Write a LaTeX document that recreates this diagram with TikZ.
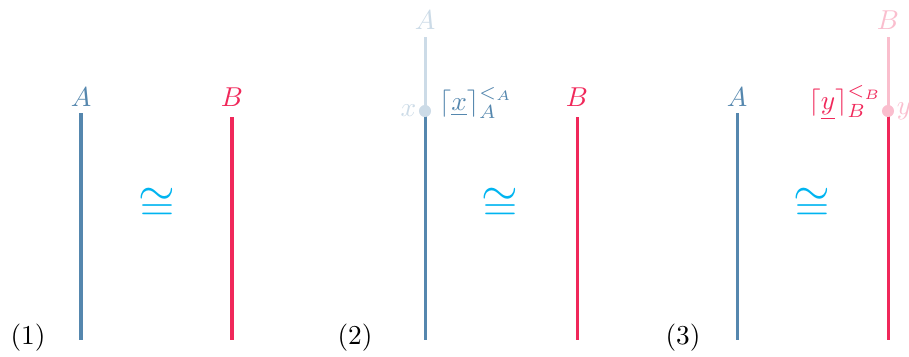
\documentclass[tikz,border=0pt]{standalone}
\usepackage{amsmath,amssymb}
\definecolor{objA}{HTML}{5587AE}
\definecolor{objB}{HTML}{F0285A}
\definecolor{isocol}{HTML}{00B4F0}
\usetikzlibrary{positioning}

\begin{document}
\begin{tikzpicture}[x=0.366pt, y=-0.366pt,
    strandA/.style={draw=objA, line width=1.1pt},
    strandB/.style={draw=objB, line width=1.1pt},
    fadeA/.style={draw=objA!30, line width=1.1pt},
    fadeB/.style={draw=objB!30, line width=1.1pt},
    lblA/.style={text=objA, inner sep=1pt},
    lblB/.style={text=objB, inner sep=1pt},
    iso/.style={text=isocol, font=\LARGE},
    tag/.style={font=\normalsize, inner sep=1pt}
]
\useasboundingbox (0,0) rectangle (909,356);

% Panel (1)
\node[lblA] (A1) at (81, 97) {$A$};
\node[lblB] (B1) at (232, 97) {$B$};
\coordinate (A1b) at (81, 340);
\coordinate (B1b) at (232, 340);
\draw[strandA] (81, 113) -- (A1b);
\draw[strandB] (232, 117) -- (B1b);
\node[iso] (I1) at (157, 205) {$\cong$};
\node[tag] (T1) at (28, 338) {(1)};

% Panel (2)
\node[lblA, text=objA!30] (A2) at (425, 20) {$A$};
\coordinate (X2) at (425, 111);
\coordinate (A2b) at (425, 340);
\draw[fadeA] (425, 37) -- (X2);
\draw[strandA] (X2) -- (A2b);
\fill[objA!30] (X2) circle (2.2pt);
\node[lblA, text=objA!30, left=2pt of X2] (x2) {$x$};
\node[lblA, right=4pt of X2, yshift=3pt] (L2) {$\lceil\underline{x}\rceil^{<_A}_{A}$};
\node[lblB] (B2) at (577, 97) {$B$};
\coordinate (B2b) at (577, 340);
\draw[strandB] (577, 117) -- (B2b);
\node[iso] (I2) at (500, 205) {$\cong$};
\node[tag] (T2) at (355, 338) {(2)};

% Panel (3)
\node[lblA] (A3) at (737, 97) {$A$};
\coordinate (A3b) at (737, 340);
\draw[strandA] (737, 113) -- (A3b);
\node[lblB, text=objB!30] (B3) at (888, 20) {$B$};
\coordinate (Y3) at (888, 111);
\coordinate (B3b) at (888, 340);
\draw[fadeB] (888, 37) -- (Y3);
\draw[strandB] (Y3) -- (B3b);
\fill[objB!30] (Y3) circle (2.2pt);
\node[lblB, text=objB!30, right=2pt of Y3] (y3) {$y$};
\node[lblB, left=1pt of Y3, yshift=3pt] (L3) {$\lceil\underline{y}\rceil^{<_B}_{B}$};
\node[iso] (I3) at (812, 205) {$\cong$};
\node[tag] (T3) at (683, 338) {(3)};

\end{tikzpicture}
\end{document}
